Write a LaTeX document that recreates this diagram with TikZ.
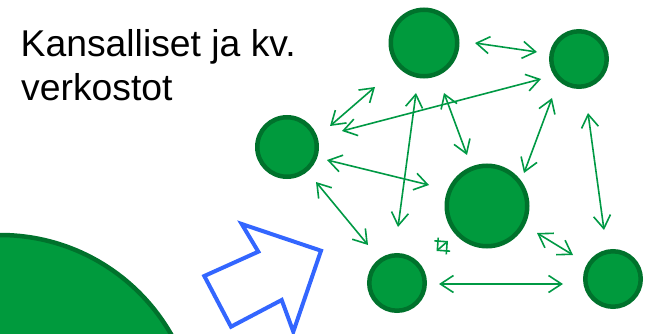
\documentclass[tikz,border=0pt]{standalone}
\usepackage{fontspec}
\setmainfont{Liberation Sans}
\usetikzlibrary{arrows.meta}
\definecolor{gfill}{RGB}{0,154,61}
\definecolor{gline}{RGB}{0,114,44}
\definecolor{garrow}{RGB}{0,153,68}
\definecolor{bline}{RGB}{51,102,255}
\begin{document}
\begin{tikzpicture}[x=1pt,y=-1pt,
  hub/.style={circle, fill=gfill, draw=gline, line width=4.5pt, inner sep=0pt},
  link/.style={draw=garrow, line width=1.6pt,
    {Straight Barb[length=13pt,width=17pt]}-{Straight Barb[length=13pt,width=17pt]}},
  tinylink/.style={draw=garrow, line width=1.6pt,
    {Straight Barb[length=9pt,width=18pt]}-{Straight Barb[length=9pt,width=18pt]}},
  title/.style={anchor=base west, inner sep=0pt, font=\fontsize{37.3pt}{44pt}\selectfont}]
\useasboundingbox (0,0) rectangle (653,334);
% big partial circle bottom-left
\draw[fill=gfill, draw=gline, line width=4.5pt] (0,432) circle (197);
% title
\node[title] (t1) at (20.5,56.7) {Kansalliset ja kv.};
\node[title] (t2) at (21,100.7) {verkostot};
% blue outline arrow
\draw[bline, line width=4pt, line join=miter]
  (241.7,224) -- (258.3,251.7) -- (204.3,276) -- (231,326.7) -- (281.7,300) -- (293.3,331.7) -- (321,250.7) -- cycle;
% network nodes
\node[hub, minimum size=66.5pt] (A) at (424,43) {};
\node[hub, minimum size=55.5pt] (B) at (579,59) {};
\node[hub, minimum size=59.5pt] (C) at (287,147) {};
\node[hub, minimum size=80.5pt] (D) at (487,206) {};
\node[hub, minimum size=55.5pt] (E) at (397,283) {};
\node[hub, minimum size=55.5pt] (F) at (613,279) {};
% connector end points
\coordinate (ab1) at (475,43);  \coordinate (ab2) at (537,52);
\coordinate (cb1) at (342,131); \coordinate (cb2) at (541,79);
\coordinate (ca1) at (330,126); \coordinate (ca2) at (375,87);
\coordinate (ae1) at (416,93);  \coordinate (ae2) at (398,227);
\coordinate (ad1) at (444,93);  \coordinate (ad2) at (467,155);
\coordinate (bd1) at (552,98);  \coordinate (bd2) at (524,173);
\coordinate (bf1) at (588,113); \coordinate (bf2) at (604,230);
\coordinate (cd1) at (327,160); \coordinate (cd2) at (429,185);
\coordinate (ce1) at (316,182); \coordinate (ce2) at (368,245);
\coordinate (df1) at (537,233); \coordinate (df2) at (573,255);
\coordinate (ef1) at (439,284); \coordinate (ef2) at (563,284);
\coordinate (ed1) at (436.5,251); \coordinate (ed2) at (448,241);
\draw[link] (ab1) -- (ab2);
\draw[link] (cb1) -- (cb2);
\draw[link] (ca1) -- (ca2);
\draw[link] (ae1) -- (ae2);
\draw[link] (ad1) -- (ad2);
\draw[link] (bd1) -- (bd2);
\draw[link] (bf1) -- (bf2);
\draw[link] (cd1) -- (cd2);
\draw[link] (ce1) -- (ce2);
\draw[link] (df1) -- (df2);
\draw[link] (ef1) -- (ef2);
\draw[tinylink] (ed1) -- (ed2);
\end{tikzpicture}
\end{document}
